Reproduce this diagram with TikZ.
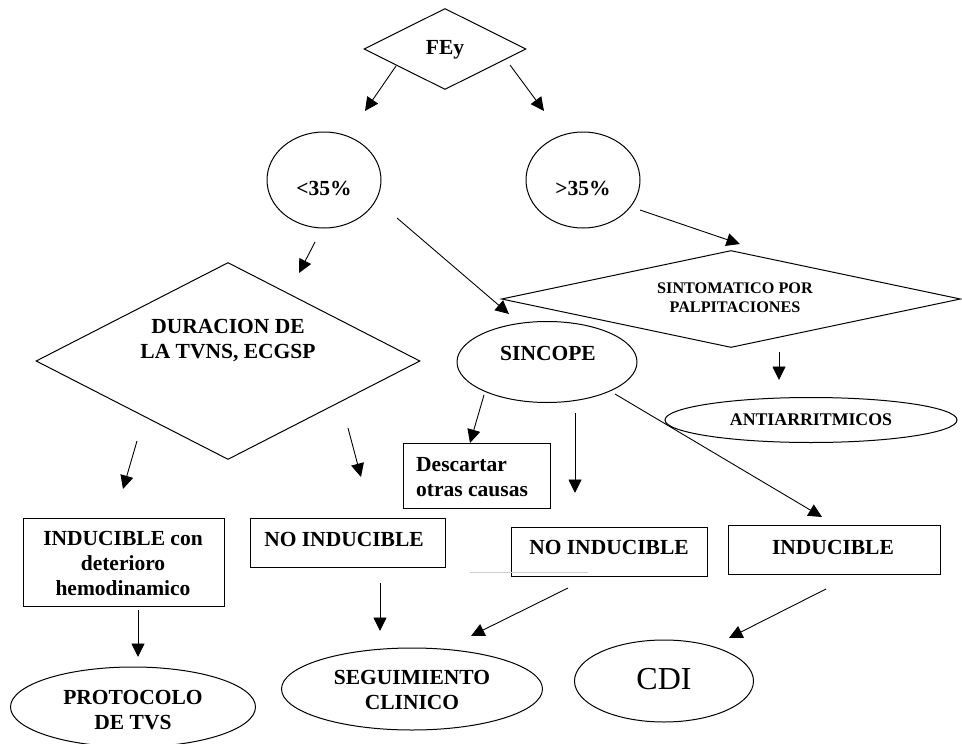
\documentclass[tikz,border=0pt]{standalone}
\usepackage{fontspec}
\setmainfont{Liberation Serif}
\usetikzlibrary{shapes.geometric,arrows.meta}
\begin{document}
\begin{tikzpicture}[x=1pt,y=-1pt,
  shp/.style={draw, line width=1pt, inner sep=0pt},
  dia/.style={shp, diamond},
  ell/.style={shp, ellipse},
  box/.style={shp, rectangle},
  txt/.style={font=\fontsize{21.5}{25}\selectfont\bfseries, align=center, inner sep=0pt},
  smalltxt/.style={font=\fontsize{16.2}{19}\selectfont\bfseries, align=center, inner sep=0pt},
  arr/.style={line width=0.9pt, -{Triangle[length=13.5pt,width=13pt]}}
]
\path[use as bounding box, fill=white] (0,0) rectangle (962,744);

% shapes
\node[dia, minimum width=162pt, minimum height=81pt, aspect=2] (fey) at (445,49) {};
\node[ell, minimum width=114pt, minimum height=96pt] (lt) at (324,180) {};
\node[ell, minimum width=114pt, minimum height=96pt] (gt) at (583,180) {};
\node[dia, minimum width=384pt, minimum height=197pt, aspect=2] (dur) at (228,361) {};
\node[dia, minimum width=459pt, minimum height=97pt, aspect=4.7] (sint) at (731,299) {};
\node[ell, minimum width=180pt, minimum height=81pt] (sinc) at (547,362) {};
\node[ell, minimum width=292pt, minimum height=45pt] (anti) at (811,420) {};
\node[box, minimum width=147pt, minimum height=65pt] (desc) at (476.5,475.5) {};
\node[box, minimum width=196pt, minimum height=49pt] (noim) at (609,551.5) {};
\node[box, minimum width=212pt, minimum height=49pt] (ind) at (834,549.5) {};
\node[box, minimum width=195pt, minimum height=49pt] (noil) at (347.5,542.5) {};
\node[box, minimum width=201pt, minimum height=88pt] (indc) at (123.5,562) {};
\node[ell, minimum width=245pt, minimum height=80pt] (prot) at (133,707) {};
\node[ell, minimum width=261pt, minimum height=82pt] (seg) at (412,689) {};
\node[ell, minimum width=179pt, minimum height=82pt] (cdi) at (664,681) {};

% texts
\node[txt] (fey-t) at (445,50) {FEy};
\node[txt] (lt-t) at (324,188) {<35\%};
\node[txt] (gt-t) at (583,188) {>35\%};
\node[txt] (dur-t) at (228,341) {DURACION DE\\LA TVNS, ECGSP};
\node[smalltxt] (sint-t) at (735,298) {SINTOMATICO POR\\PALPITACIONES};
\node[txt] (sinc-t) at (548,353) {SINCOPE};
\node[font=\fontsize{17.8}{20}\selectfont\bfseries, inner sep=0pt] (anti-t) at (811,420) {ANTIARRITMICOS};
\node[txt, align=left, anchor=west] (desc-t) at (416,477) {Descartar\\otras causas};
\node[txt] (noim-t) at (609,547) {NO INDUCIBLE};
\node[txt] (ind-t) at (833,547) {INDUCIBLE};
\node[txt] (noil-t) at (344,539) {NO INDUCIBLE};
\node[txt] (indc-t) at (123,563) {INDUCIBLE con\\deterioro\\hemodinamico};
\node[txt] (prot-t) at (133,710) {PROTOCOLO\\DE TVS};
\node[txt] (seg-t) at (412,690) {SEGUIMIENTO\\CLINICO};
\node[font=\fontsize{32}{36}\selectfont, inner sep=0pt] (cdi-t) at (664,679) {CDI};

% thin grey line
\coordinate (g1) at (470,572);
\coordinate (g2) at (588,572);
\draw[gray!40, line width=0.8pt] (g1) -- (g2);

% arrow end points
\coordinate (a1s) at (396,66);  \coordinate (a1e) at (365,111);
\coordinate (a2s) at (510,65);  \coordinate (a2e) at (544,111);
\coordinate (a3s) at (315,242); \coordinate (a3e) at (299,273);
\coordinate (a4s) at (397,218); \coordinate (a4e) at (509,314);
\coordinate (a5s) at (640,210); \coordinate (a5e) at (740,244);
\coordinate (a6s) at (779,352); \coordinate (a6e) at (779,380);
\coordinate (a7s) at (484,395); \coordinate (a7e) at (470,443);
\coordinate (a8s) at (575,413); \coordinate (a8e) at (575,493);
\coordinate (a9s) at (615,394); \coordinate (a9e) at (822,517);
\coordinate (a10s) at (137,441); \coordinate (a10e) at (123,489);
\coordinate (a11s) at (348,428); \coordinate (a11e) at (361,477);
\coordinate (a12s) at (138,610); \coordinate (a12e) at (138,657);
\coordinate (a13s) at (380,583); \coordinate (a13e) at (380,631);
\coordinate (a14s) at (568,588); \coordinate (a14e) at (471,636);
\coordinate (a15s) at (826,589); \coordinate (a15e) at (729,638);

\foreach \i in {1,...,15} {\draw[arr] (a\i s) -- (a\i e);}
\end{tikzpicture}
\end{document}
